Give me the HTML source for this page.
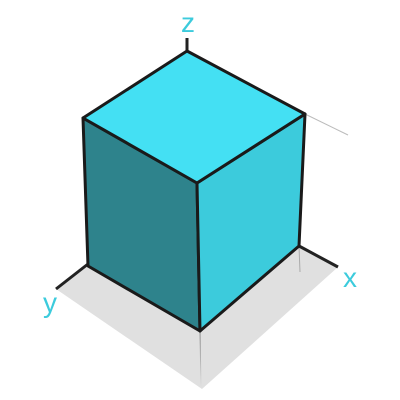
<!DOCTYPE html>
<html><head><meta charset="utf-8"><style>
html,body{margin:0;padding:0;background:#fff;width:400px;height:400px;overflow:hidden}
text{font-family:"Liberation Sans","DejaVu Sans",sans-serif;fill:#3ccbdc;font-size:28px}
</style></head><body>
<svg width="400" height="400" viewBox="0 0 400 400">
  <defs>
    <linearGradient id="fade" x1="0" y1="0" x2="0" y2="1">
      <stop offset="0" stop-color="#888"/><stop offset="1" stop-color="#e0e0e0"/>
    </linearGradient>
  </defs>
  <polygon points="56,289 88,264 200,331 299,246 338,267 202,389" fill="#e0e0e0"/>
  <line x1="200" y1="331" x2="201" y2="388" stroke="url(#fade)" stroke-width="1"/>
  <line x1="299" y1="246" x2="300" y2="272" stroke="#aaa" stroke-width="1"/>
  <line x1="299" y1="246" x2="338" y2="267" stroke="#222" stroke-width="3"/>
  <line x1="88" y1="264" x2="56" y2="289" stroke="#222" stroke-width="3"/>
  <line x1="187" y1="51" x2="187" y2="38" stroke="#222" stroke-width="3"/>
  <line x1="305" y1="114" x2="348" y2="135" stroke="#bbb" stroke-width="1"/>
  <g stroke="#1a1a1a" stroke-width="3" stroke-linejoin="round">
    <polygon points="83,118 197,183 200,331 88,266" fill="#2e838c"/>
    <polygon points="197,183 305,114 299,246 200,331" fill="#3ccbdc"/>
    <polygon points="83,118 187,51 305,114 197,183" fill="#44e0f3"/>
  </g>
  <text x="188" y="32" text-anchor="middle">z</text>
  <text x="350" y="287" text-anchor="middle">x</text>
  <text x="50" y="312" text-anchor="middle">y</text>
</svg>
</body></html>
